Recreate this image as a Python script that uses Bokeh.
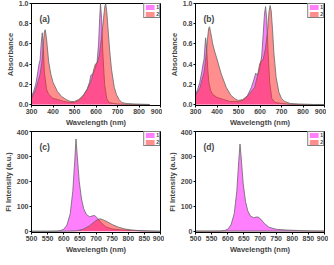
from bokeh.plotting import figure
from bokeh.layouts import gridplot
from bokeh.models import Range1d, FixedTicker, Legend, LegendItem, Label, PrintfTickFormatter
from bokeh.embed import file_html
from bokeh.resources import INLINE

# ---- data ----
# (a) absorbance
wl_a1 = [300, 310, 320, 330, 335, 340, 345, 350, 355, 360, 370, 380, 400, 420, 450, 480, 500, 520, 540, 560, 570, 576, 585, 595, 605, 612, 617, 621, 626, 632, 640, 650, 660, 680, 700, 750, 800, 850]
ab_a1 = [0.08, 0.13, 0.2, 0.33, 0.4, 0.44, 0.6, 0.71, 0.55, 0.32, 0.15, 0.1, 0.06, 0.05, 0.03, 0.02, 0.02, 0.04, 0.08, 0.16, 0.22, 0.29, 0.3, 0.35, 0.42, 0.6, 0.85, 1.0, 0.85, 0.5, 0.2, 0.06, 0.02, 0.01, 0.005, 0.0, 0.0, 0.0]
wl_a2 = [300, 320, 340, 350, 355, 360, 364, 370, 380, 390, 400, 420, 440, 460, 480, 500, 520, 540, 560, 580, 590, 597, 605, 615, 625, 635, 641, 645, 650, 656, 663, 672, 685, 695, 707, 720, 740, 780, 850]
ab_a2 = [0.06, 0.15, 0.3, 0.45, 0.6, 0.72, 0.74, 0.65, 0.42, 0.3, 0.22, 0.13, 0.08, 0.05, 0.03, 0.03, 0.05, 0.09, 0.15, 0.25, 0.35, 0.4, 0.41, 0.48, 0.65, 0.85, 0.97, 1.0, 0.92, 0.75, 0.55, 0.35, 0.17, 0.1, 0.05, 0.02, 0.01, 0.005, 0.0]

# (b) absorbance
wl_b1 = [300, 310, 320, 330, 335, 340, 347, 352, 357, 362, 370, 380, 400, 430, 460, 480, 500, 520, 540, 560, 572, 580, 588, 598, 608, 615, 621, 626, 631, 637, 645, 655, 670, 700, 750, 800, 850, 900]
ab_b1 = [0.1, 0.15, 0.22, 0.33, 0.4, 0.45, 0.66, 0.55, 0.35, 0.22, 0.14, 0.1, 0.07, 0.05, 0.03, 0.03, 0.03, 0.04, 0.08, 0.17, 0.25, 0.31, 0.29, 0.35, 0.48, 0.7, 0.9, 0.97, 0.85, 0.55, 0.22, 0.06, 0.02, 0.01, 0.0, 0.0, 0.0, 0.0]
wl_b2 = [300, 320, 340, 350, 356, 361, 365, 370, 380, 390, 400, 420, 443, 465, 488, 500, 520, 550, 575, 590, 598, 606, 615, 625, 635, 642, 647, 652, 658, 665, 675, 688, 700, 715, 740, 780, 850, 900]
ab_b2 = [0.09, 0.16, 0.32, 0.5, 0.65, 0.75, 0.77, 0.72, 0.6, 0.52, 0.45, 0.3, 0.17, 0.09, 0.05, 0.04, 0.05, 0.1, 0.17, 0.3, 0.4, 0.43, 0.45, 0.55, 0.72, 0.92, 0.98, 0.93, 0.75, 0.5, 0.27, 0.12, 0.06, 0.03, 0.01, 0.005, 0.0, 0.0]

# (c) fluorescence
wl_c1 = [500, 550, 580, 590, 600, 610, 620, 628, 634, 638, 642, 648, 655, 662, 670, 680, 690, 696, 705, 715, 730, 750, 780, 820, 860, 900]
fl_c1 = [0, 0, 1, 3, 8, 25, 70, 160, 280, 370, 300, 200, 130, 90, 68, 58, 62, 63, 52, 35, 18, 9, 5, 3, 1, 0]
wl_c2 = [500, 550, 600, 640, 660, 680, 695, 705, 712, 720, 735, 750, 770, 790, 810, 840, 870, 900]
fl_c2 = [0, 0, 0, 2, 8, 22, 38, 47, 50, 47, 38, 27, 16, 9, 5, 2, 1, 0]

# (d) fluorescence
wl_d1 = [500, 550, 580, 590, 600, 610, 620, 628, 634, 638, 642, 648, 655, 662, 670, 680, 688, 694, 703, 713, 728, 750, 780, 820, 860, 900]
fl_d1 = [0, 0, 1, 3, 8, 25, 70, 160, 280, 350, 290, 190, 120, 82, 62, 54, 57, 57, 48, 32, 16, 8, 5, 3, 1, 0]
wl_d2 = [500, 600, 700, 800, 900]
fl_d2 = [1, 1, 1, 1, 1]

abs_ticks = [0.0, 0.2, 0.4, 0.6, 0.8, 1.0]
abs_wl_ticks = [300, 400, 500, 600, 700, 800, 900]
fl_ticks = [0, 100, 200, 300, 400]
fl_wl_ticks = [500, 550, 600, 650, 700, 750, 800, 850, 900]
series_names = ["1", "2"]
panel_tags = ["(a)", "(b)", "(c)", "(d)"]

C1 = "#ff00ff"
C2 = "#ff2020"
FONT = "Liberation Sans"


def make_panel(tag, x1, y1, x2, y2, xr, yr, xticks, yticks, yfmt, ylabel, fw, fh, left, right, top, bottom):
    p = figure(frame_width=fw, frame_height=fh, output_backend="svg", toolbar_location=None,
               x_range=Range1d(*xr), y_range=Range1d(*yr),
               min_border_left=left, min_border_right=right, min_border_top=top,
               min_border_bottom=bottom)
    p.grid.visible = False
    p.outline_line_color = "black"
    p.outline_line_width = 1
    p.background_fill_color = "white"
    a1 = p.varea(x=x1, y1=[0] * len(y1), y2=y1, fill_color=C1, fill_alpha=0.5)
    p.line(x1, y1, line_color="#666666", line_width=0.8)
    a2 = p.varea(x=x2, y1=[0] * len(y2), y2=y2, fill_color=C2, fill_alpha=0.5)
    p.line(x2, y2, line_color="#666666", line_width=0.8)
    for ax in (p.xaxis, p.yaxis):
        ax.major_label_text_font = FONT
        ax.major_label_text_font_style = "bold"
        ax.major_label_text_font_size = "7px"
        ax.axis_label_text_font = FONT
        ax.axis_label_text_font_style = "bold"
        ax.axis_label_text_font_size = "7.5px"
        ax.axis_line_color = "black"
        ax.axis_line_width = 1
        ax.major_tick_line_color = "black"
        ax.major_tick_out = 2
        ax.major_tick_in = 0
        ax.minor_tick_line_color = None
        ax.major_label_standoff = 1
        ax.axis_label_standoff = 1
    p.xaxis.ticker = FixedTicker(ticks=xticks)
    p.yaxis.ticker = FixedTicker(ticks=yticks)
    p.yaxis.formatter = PrintfTickFormatter(format=yfmt)
    p.xaxis.axis_label = "Wavelength (nm)"
    p.yaxis.axis_label = ylabel
    leg = Legend(items=[LegendItem(label=series_names[0], renderers=[a1]),
                        LegendItem(label=series_names[1], renderers=[a2])],
                 location="top_right", glyph_width=11, glyph_height=6,
                 label_text_font_size="5px", label_text_font=FONT, label_text_font_style="bold",
                 label_width=2, label_height=6, label_standoff=1, padding=0, spacing=1, margin=0,
                 border_line_color="black", border_line_width=1, background_fill_alpha=1)
    p.add_layout(leg)
    p.add_layout(Label(x=8, y=fh - 20, x_units="screen", y_units="screen",
                       text=tag, text_font=FONT, text_font_style="bold", text_font_size="8.5px"))
    return p


pa = make_panel(panel_tags[0], wl_a1, ab_a1, wl_a2, ab_a2, (300, 900), (-0.01, 1.0),
                abs_wl_ticks, abs_ticks, "%.1f", "Absorbance", 129, 102, 26, 4, 3, 19)
pb = make_panel(panel_tags[1], wl_b1, ab_b1, wl_b2, ab_b2, (300, 900), (-0.01, 1.0),
                abs_wl_ticks, abs_ticks, "%.1f", "Absorbance", 129, 102, 26, 4, 3, 19)
pc = make_panel(panel_tags[2], wl_c1, fl_c1, wl_c2, fl_c2, (500, 900), (-5, 400),
                fl_wl_ticks, fl_ticks, "%d", "Fl Intensity (a.u.)", 129, 101, 26, 4, 2, 22)
pd = make_panel(panel_tags[3], wl_d1, fl_d1, wl_d2, fl_d2, (500, 900), (-5, 400),
                fl_wl_ticks, fl_ticks, "%d", "Fl Intensity (a.u.)", 129, 101, 26, 4, 2, 22)

grid = gridplot([[pa, pb], [pc, pd]], toolbar_location=None)

open("out.html", "w").write(file_html(grid, INLINE))
